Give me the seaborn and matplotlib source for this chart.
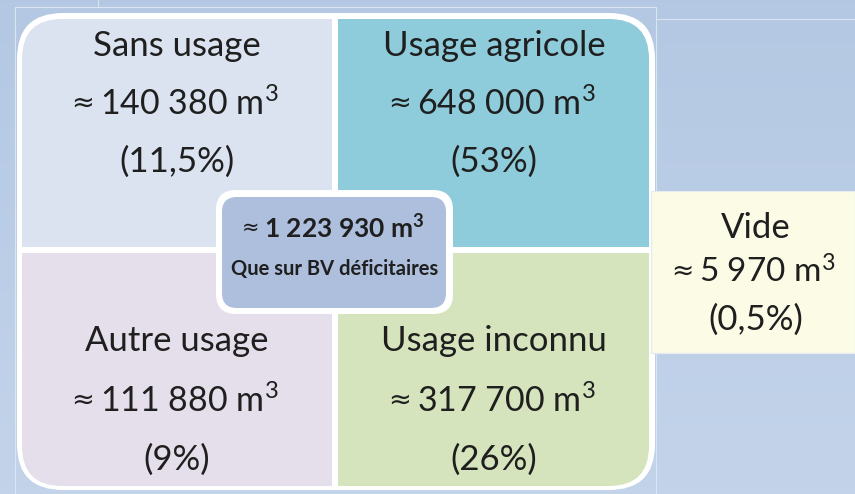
import numpy as np
import matplotlib
matplotlib.use("Agg")
import matplotlib.pyplot as plt
import seaborn as sns
from matplotlib.patches import FancyBboxPatch, Rectangle

sns.set_style("white")
plt.rcParams['font.family'] = ['Lato', 'DejaVu Sans']
plt.rcParams['mathtext.fontset'] = 'custom'
plt.rcParams['mathtext.rm'] = 'Lato'
plt.rcParams['mathtext.it'] = 'Lato'
plt.rcParams['mathtext.bf'] = 'Lato:bold'
plt.rcParams['mathtext.default'] = 'regular'

# ---- data ----
categories = ["Sans usage", "Usage agricole", "Autre usage", "Usage inconnu"]
volumes = [140380, 648000, 111880, 317700]
percents = ["11,5%", "53%", "9%", "26%"]
cell_colors = ["#dae3ef", "#8ecbdb", "#e4dfea", "#d6e4bd"]
extra_label = "Vide"
extra_volume = 5970
extra_percent = "0,5%"
total_volume = 1223930
total_note = "Que sur BV déficitaires"


def fmt(v):
    return "{:,}".format(v).replace(",", " ")


W, H = 855, 494
fig = plt.figure(figsize=(W / 100, H / 100), dpi=100)
ax = fig.add_axes([0, 0, 1, 1])
ax.set_xlim(0, W)
ax.set_ylim(H, 0)
ax.axis("off")

# background gradient
grad = np.linspace(0, 1, 256).reshape(-1, 1)
top = np.array([0.706, 0.784, 0.890])
bot = np.array([0.765, 0.831, 0.918])
img = top + (bot - top) * grad[..., None]
ax.imshow(np.repeat(img, 2, axis=1), extent=[0, W, H, 0], aspect="auto", zorder=0)

# faint frame lines
lc = "#dbe5f1"
ax.plot([15, 15], [7, H], color=lc, lw=0.8, zorder=1)
ax.plot([15, 656], [7, 7], color=lc, lw=0.8, zorder=1)
ax.plot([98, 98], [0, 7], color=lc, lw=0.8, zorder=1)
ax.plot([656, 656], [7, H], color=lc, lw=0.8, zorder=1)
ax.plot([656, W], [19, 19], color=lc, lw=0.8, zorder=1)

# outer white rounded box
outer = FancyBboxPatch((17, 13), 638, 477, boxstyle="round,pad=0,rounding_size=46",
                       fc="white", ec="none", zorder=2)
ax.add_patch(outer)
inner = FancyBboxPatch((22, 19), 627, 467, boxstyle="round,pad=0,rounding_size=40",
                       fc="none", ec="none", zorder=2)
ax.add_patch(inner)

cells = [(22, 19, 310, 228), (338, 19, 311, 228), (22, 253, 310, 233), (338, 253, 311, 233)]
for (x, y, w, h), c in zip(cells, cell_colors):
    r = Rectangle((x, y), w, h, fc=c, ec="none", zorder=3)
    ax.add_patch(r)
    r.set_clip_path(inner)

tc = "#1f1f1f"
fs = 25


def approx_value(cx, cy, value, size, weight="normal", approx_size=None, gap=6):
    """Draw '≈ value m³' centred at cx with a DejaVu approx sign."""
    if approx_size is None:
        approx_size = size * 0.8
    shift = (approx_size * 0.9 + gap) / 2.0
    t = ax.text(cx + shift, cy, fmt(value) + r" m$^{3}$", ha="center", va="center",
                fontsize=size, fontweight=weight, color=tc, zorder=9)
    ax.annotate("≈", xy=(0, 0.5), xycoords=t, xytext=(-gap, 0), textcoords="offset pixels",
                ha="right", va="center", fontsize=approx_size, color=tc,
                family=["DejaVu Sans"], zorder=9)
    return t


centers_x = [177, 494, 177, 494]
rows_y = [(46, 104, 162), (46, 104, 162), (341, 401, 460), (341, 401, 460)]
for cat, vol, pct, cx, ys in zip(categories, volumes, percents, centers_x, rows_y):
    ax.text(cx, ys[0], cat, ha="center", va="center", fontsize=fs, color=tc, zorder=5)
    approx_value(cx, ys[1], vol, 24.5)
    ax.text(cx, ys[2], "(" + pct + ")", ha="center", va="center", fontsize=fs, color=tc, zorder=5)

# Vide box
ax.add_patch(Rectangle((651, 191), W - 651, 162, fc="#fbfbe6", ec="#e6ebf2", lw=0.8, zorder=4))
vx = 756
ax.text(vx, 228, extra_label, ha="center", va="center", fontsize=fs, color=tc, zorder=5)
approx_value(vx, 272, extra_volume, 24)
ax.text(vx, 320, "(" + extra_percent + ")", ha="center", va="center", fontsize=fs, color=tc, zorder=5)

# center box
ax.add_patch(FancyBboxPatch((216, 190), 237, 124, boxstyle="round,pad=0,rounding_size=20",
                            fc="white", ec="none", zorder=6))
ax.add_patch(FancyBboxPatch((222, 197), 224, 111, boxstyle="round,pad=0,rounding_size=15",
                            fc="#adbfdc", ec="none", zorder=7))
approx_value(335, 228, total_volume, 19, weight="bold", approx_size=15, gap=5)
ax.text(335, 269, total_note, ha="center", va="center", fontsize=14.5,
        fontweight="bold", color=tc, zorder=8)

fig.savefig("out.png", dpi=100)
